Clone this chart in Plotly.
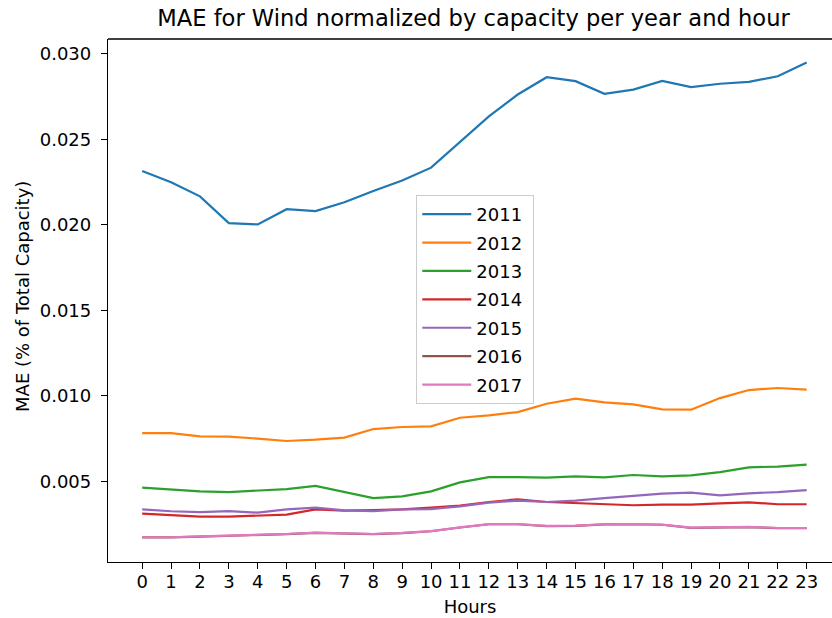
import plotly.graph_objects as go

hours = list(range(24))

mae_2011 = [0.02315, 0.02250, 0.02167, 0.02011, 0.02003, 0.02092, 0.02081, 0.02133,
            0.02198, 0.02260, 0.02335, 0.02484, 0.02635, 0.02763, 0.02864, 0.02841,
            0.02767, 0.02792, 0.02843, 0.02806, 0.02826, 0.02837, 0.02870, 0.02950]
mae_2012 = [0.00782, 0.00782, 0.00763, 0.00761, 0.00750, 0.00736, 0.00744, 0.00756,
            0.00806, 0.00818, 0.00822, 0.00872, 0.00886, 0.00905, 0.00954, 0.00984,
            0.00962, 0.00950, 0.00921, 0.00919, 0.00987, 0.01034, 0.01046, 0.01036]
mae_2013 = [0.00463, 0.00451, 0.00441, 0.00437, 0.00446, 0.00455, 0.00473, 0.00437,
            0.00402, 0.00412, 0.00441, 0.00494, 0.00525, 0.00525, 0.00522, 0.00529,
            0.00523, 0.00537, 0.00529, 0.00535, 0.00554, 0.00582, 0.00586, 0.00598]
mae_2014 = [0.00311, 0.00301, 0.00294, 0.00294, 0.00299, 0.00305, 0.00336, 0.00329,
            0.00332, 0.00336, 0.00346, 0.00358, 0.00379, 0.00395, 0.00379, 0.00373,
            0.00364, 0.00360, 0.00364, 0.00364, 0.00371, 0.00377, 0.00366, 0.00366]
mae_2015 = [0.00336, 0.00325, 0.00320, 0.00326, 0.00317, 0.00336, 0.00346, 0.00330,
            0.00326, 0.00336, 0.00338, 0.00354, 0.00375, 0.00387, 0.00379, 0.00387,
            0.00402, 0.00416, 0.00428, 0.00434, 0.00418, 0.00430, 0.00437, 0.00449]
mae_2016 = [0.00172, 0.00172, 0.00177, 0.00181, 0.00183, 0.00191, 0.00199, 0.00193,
            0.00191, 0.00197, 0.00208, 0.00230, 0.00249, 0.00249, 0.00238, 0.00240,
            0.00248, 0.00249, 0.00246, 0.00228, 0.00228, 0.00232, 0.00226, 0.00226]
mae_2017 = [0.00173, 0.00173, 0.00178, 0.00182, 0.00184, 0.00192, 0.00200, 0.00194,
            0.00192, 0.00198, 0.00209, 0.00231, 0.00250, 0.00250, 0.00239, 0.00241,
            0.00249, 0.00250, 0.00247, 0.00229, 0.00229, 0.00233, 0.00227, 0.00227]

years = ["2011", "2012", "2013", "2014", "2015", "2016", "2017"]
series = [mae_2011, mae_2012, mae_2013, mae_2014, mae_2015, mae_2016, mae_2017]
colors = ["#1f77b4", "#ff7f0e", "#2ca02c", "#d62728", "#9467bd", "#8c564b", "#e377c2"]

FONT = "DejaVu Sans"

# axes box in picture pixels (right spine runs just past the picture)
W, H = 832, 618
L, T, B = 107.5, 38.5, 561.7

fig = go.Figure()
for year, vals, color in zip(years, series, colors):
    fig.add_trace(go.Scatter(
        x=hours, y=vals, mode="lines", name=year + "\u00a0", legendgroup=year,
        line=dict(color=color, width=2.2),
    ))

# top spine
fig.add_shape(type="line", xref="paper", yref="paper", x0=0, x1=1, y0=1, y1=1,
              line=dict(color="black", width=1.3), layer="above")

# y axis label, placed by hand like matplotlib does
fig.add_annotation(
    text="MAE (% of Total Capacity)", textangle=-90, showarrow=False,
    xref="paper", yref="paper", x=(22 - L) / (W - L), y=(B - 296) / (B - T),
    xanchor="center", yanchor="middle",
    font=dict(family=FONT, size=18, color="black"),
)

fig.update_layout(
    width=W, height=H,
    margin=dict(l=L, r=0, t=T, b=H - B, autoexpand=False),
    paper_bgcolor="white", plot_bgcolor="white",
    font=dict(family=FONT, size=18, color="black"),
    title=dict(
        text="MAE for Wind normalized by capacity per year and hour",
        font=dict(family=FONT, size=22.6, color="black"),
        x=473.5 / W, xanchor="center",
        y=1 - 18 / H, yanchor="middle",
    ),
    legend=dict(
        x=(416 - L) / (W - L), y=(B - 194.5) / (B - T),
        xanchor="left", yanchor="top",
        bgcolor="rgba(255,255,255,0.8)", bordercolor="#cccccc", borderwidth=1,
        font=dict(family=FONT, size=18, color="black"),
        itemwidth=49, tracegroupgap=2, traceorder="grouped",
    ),
    showlegend=True,
)

fig.update_xaxes(
    range=[-1.183, 23.877], tickmode="array", tickvals=hours,
    ticktext=[str(h) for h in hours],
    showgrid=False, zeroline=False, automargin=False,
    showline=True, linecolor="black", linewidth=1.3,
    ticks="outside", ticklen=6, tickwidth=1.2, tickcolor="black",
    ticklabelstandoff=-3,
    title=dict(text="Hours", standoff=9, font=dict(family=FONT, size=18)),
)
fig.update_yaxes(
    range=[0.000281, 0.030877], tickvals=[0.005, 0.010, 0.015, 0.020, 0.025, 0.030],
    tickformat=".3f",
    showgrid=False, zeroline=False, automargin=False,
    showline=True, linecolor="black", linewidth=1.3,
    ticks="outside", ticklen=6, tickwidth=1.2, tickcolor="black",
    ticklabelstandoff=6,
)

# drop the page's default 8px body margin so the figure fills the window
fig.write_html(
    "out.html",
    config={"displayModeBar": False},
    post_script="document.body.style.margin='0';document.body.style.overflow='hidden';",
)
